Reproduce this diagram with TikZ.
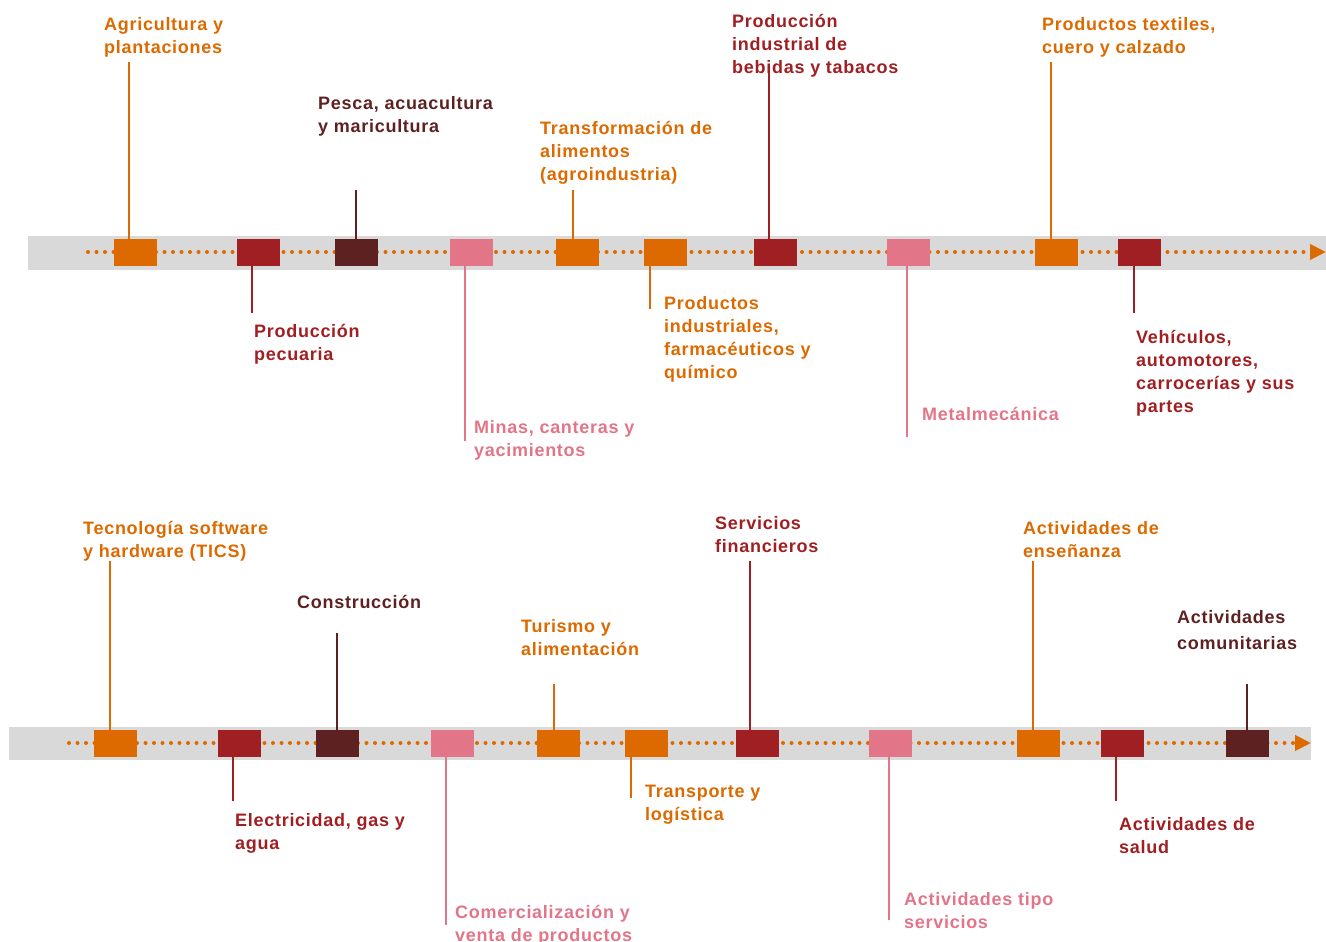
\documentclass[tikz,border=0pt]{standalone}
\usepackage{fontspec}
\setmainfont{Liberation Sans}[LetterSpace=4]
\usetikzlibrary{arrows.meta}

\definecolor{naranja}{RGB}{221,106,0}
\definecolor{rojo}{RGB}{160,31,34}
\definecolor{vino}{RGB}{94,33,33}
\definecolor{rosa}{RGB}{226,117,136}
\definecolor{gris}{RGB}{217,217,217}

\tikzset{
  hito/.style={fill=#1, minimum width=43pt, minimum height=27pt, inner sep=0pt, outer sep=0pt},
  etiqueta/.style={anchor=north west, inner sep=0pt, align=left, text=#1,
    font=\fontsize{18}{23}\selectfont\bfseries},
  enlace/.style={draw=#1, line width=1.6pt},
  puntos/.style={draw=naranja, line width=4pt, line cap=round, dash pattern=on 0pt off 8.5pt,
    -{Triangle[length=16pt,width=15pt]}}
}

\begin{document}
\begin{tikzpicture}[x=1pt, y=-1pt]
      \useasboundingbox (0,0) rectangle (1326,942);
      % linea superior
      \fill[gris] (28,236) rectangle (1326,270);
      \coordinate (ini1) at (88,252);
      \coordinate (fin1) at (1326,252);
      \draw[puntos] (ini1) -- (fin1);
      \node[hito=naranja] (s1) at (135.5,252.5) {};
      \node[hito=rojo] (s2) at (258.5,252.5) {};
      \node[hito=vino] (s3) at (356.5,252.5) {};
      \node[hito=rosa] (s4) at (471.5,252.5) {};
      \node[hito=naranja] (s5) at (577.5,252.5) {};
      \node[hito=naranja] (s6) at (665.5,252.5) {};
      \node[hito=rojo] (s7) at (775.5,252.5) {};
      \node[hito=rosa] (s8) at (908.5,252.5) {};
      \node[hito=naranja] (s9) at (1056.5,252.5) {};
      \node[hito=rojo] (s10) at (1139.5,252.5) {};

      \node[etiqueta=naranja] (agri) at (104,17) {Agricultura y\\plantaciones};
      \node[etiqueta=rojo] (pecu) at (254,324) {Producción\\pecuaria};
      \node[etiqueta=vino] (pesca) at (318,96) {Pesca, acuacultura\\y maricultura};
      \node[etiqueta=rosa] (minas) at (474,420) {Minas, canteras y\\yacimientos};
      \node[etiqueta=naranja] (alim) at (540,121) {Transformación de\\alimentos\\(agroindustria)};
      \node[etiqueta=naranja] (quim) at (664,296) {Productos\\industriales,\\farmacéuticos y\\químico};
      \node[etiqueta=rojo] (bebi) at (732,14) {Producción\\industrial de\\bebidas y tabacos};
      \node[etiqueta=rosa] (metal) at (922,407) {Metalmecánica};
      \node[etiqueta=naranja] (text) at (1042,17) {Productos textiles,\\cuero y calzado};
      \node[etiqueta=rojo] (vehi) at (1136,330) {Vehículos,\\automotores,\\carrocerías y sus\\partes};

      \coordinate (c1) at (129,62);
      \coordinate (c2) at (252,313);
      \coordinate (c3) at (356,190);
      \coordinate (c4) at (465,441);
      \coordinate (c5) at (573,190);
      \coordinate (c6) at (650,309);
      \coordinate (c7) at (769,66);
      \coordinate (c8) at (907,437);
      \coordinate (c9) at (1051,62);
      \coordinate (c10) at (1134,313);
      \draw[enlace=naranja] (s1.north -| c1) -- (c1);
      \draw[enlace=rojo] (s2.south -| c2) -- (c2);
      \draw[enlace=vino] (s3.north -| c3) -- (c3);
      \draw[enlace=rosa] (s4.south -| c4) -- (c4);
      \draw[enlace=naranja] (s5.north -| c5) -- (c5);
      \draw[enlace=naranja] (s6.south -| c6) -- (c6);
      \draw[enlace=rojo] (s7.north -| c7) -- (c7);
      \draw[enlace=rosa] (s8.south -| c8) -- (c8);
      \draw[enlace=naranja] (s9.north -| c9) -- (c9);
      \draw[enlace=rojo] (s10.south -| c10) -- (c10);

      % linea inferior
      \fill[gris] (9,727) rectangle (1311,760);
      \coordinate (ini2) at (69,743);
      \coordinate (fin2) at (1311,743);
      \draw[puntos] (ini2) -- (fin2);
      \node[hito=naranja] (i1) at (115.5,743) {};
      \node[hito=rojo] (i2) at (239.5,743) {};
      \node[hito=vino] (i3) at (337.5,743) {};
      \node[hito=rosa] (i4) at (452.5,743) {};
      \node[hito=naranja] (i5) at (558.5,743) {};
      \node[hito=naranja] (i6) at (646.5,743) {};
      \node[hito=rojo] (i7) at (757.5,743) {};
      \node[hito=rosa] (i8) at (890.5,743) {};
      \node[hito=naranja] (i9) at (1038.5,743) {};
      \node[hito=rojo] (i10) at (1122.5,743) {};
      \node[hito=vino] (i11) at (1247.5,743) {};

      \node[etiqueta=naranja] (tics) at (83,521) {Tecnología software\\y hardware (TICS)};
      \node[etiqueta=rojo] (elec) at (235,813) {Electricidad, gas y\\agua};
      \node[etiqueta=vino] (cons) at (297,595) {Construcción};
      \node[etiqueta=rosa] (come) at (455,905) {Comercialización y\\venta de productos};
      \node[etiqueta=naranja] (turi) at (521,619) {Turismo y\\alimentación};
      \node[etiqueta=naranja] (tran) at (645,785) {Transporte y\\logística};
      \node[etiqueta=rojo] (fina) at (715,516) {Servicios\\financieros};
      \node[etiqueta=rosa] (serv) at (904,892) {Actividades tipo\\servicios};
      \node[etiqueta=naranja] (ense) at (1023,521) {Actividades de\\enseñanza};
      \node[etiqueta=rojo] (salu) at (1119,817) {Actividades de\\salud};
      \node[etiqueta=vino] (comu) at (1177,610) {Actividades\\[3pt]comunitarias};

      \coordinate (d1) at (110,561);
      \coordinate (d2) at (233,801);
      \coordinate (d3) at (337,633);
      \coordinate (d4) at (446,925);
      \coordinate (d5) at (554,684);
      \coordinate (d6) at (631,798);
      \coordinate (d7) at (750,561);
      \coordinate (d8) at (889,920);
      \coordinate (d9) at (1033,561);
      \coordinate (d10) at (1116,801);
      \coordinate (d11) at (1247,684);
      \draw[enlace=naranja] (i1.north -| d1) -- (d1);
      \draw[enlace=rojo] (i2.south -| d2) -- (d2);
      \draw[enlace=vino] (i3.north -| d3) -- (d3);
      \draw[enlace=rosa] (i4.south -| d4) -- (d4);
      \draw[enlace=naranja] (i5.north -| d5) -- (d5);
      \draw[enlace=naranja] (i6.south -| d6) -- (d6);
      \draw[enlace=rojo] (i7.north -| d7) -- (d7);
      \draw[enlace=rosa] (i8.south -| d8) -- (d8);
      \draw[enlace=naranja] (i9.north -| d9) -- (d9);
      \draw[enlace=rojo] (i10.south -| d10) -- (d10);
      \draw[enlace=vino] (i11.north -| d11) -- (d11);
    \end{tikzpicture}
\end{document}
